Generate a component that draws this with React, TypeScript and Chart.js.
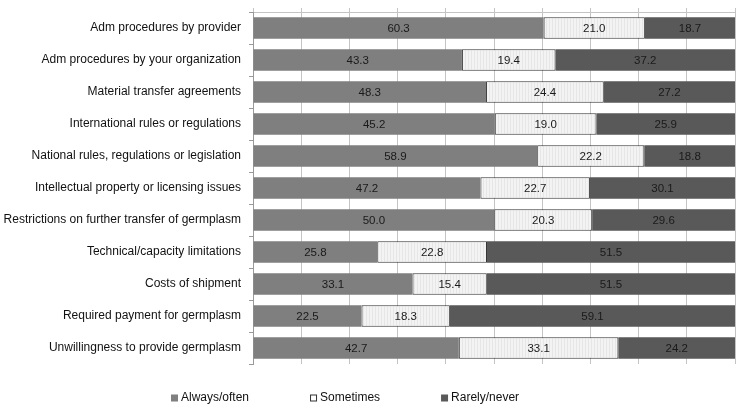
import React, { useEffect, useRef } from "react";
import { Chart, registerables } from "chart.js";

Chart.register(...registerables);

const categories = [
  "Adm procedures by provider",
  "Adm procedures by your organization",
  "Material transfer agreements",
  "International rules or regulations",
  "National rules, regulations or legislation",
  "Intellectual property or licensing issues",
  "Restrictions on further transfer of germplasm",
  "Technical/capacity limitations",
  "Costs of shipment",
  "Required payment for germplasm",
  "Unwillingness to provide germplasm",
];

const alwaysOften = [60.3, 43.3, 48.3, 45.2, 58.9, 47.2, 50.0, 25.8, 33.1, 22.5, 42.7];
const sometimes = [21.0, 19.4, 24.4, 19.0, 22.2, 22.7, 20.3, 22.8, 15.4, 18.3, 33.1];
const rarelyNever = [18.7, 37.2, 27.2, 25.9, 18.8, 30.1, 29.6, 51.5, 51.5, 59.1, 24.2];

const seriesNames = ["Always/often", "Sometimes", "Rarely/never"];
const axisMax = 100;
const axisStep = 10;

const FONT = "'Liberation Sans', Arial, sans-serif";

export default function App() {
  const ref = useRef<HTMLCanvasElement>(null);

  useEffect(() => {
    const canvas = ref.current!;
    const raw = [alwaysOften, sometimes, rarelyNever];
    const totals = categories.map((_, i) => raw.reduce((s, a) => s + a[i], 0));
    const share = raw.map((a) => a.map((v, i) => (v / totals[i]) * 100));

    const pc = document.createElement("canvas");
    pc.width = 3;
    pc.height = 3;
    const pctx = pc.getContext("2d")!;
    pctx.fillStyle = "#f3f3f3";
    pctx.fillRect(0, 0, 3, 3);
    pctx.fillStyle = "#e6e6e6";
    pctx.fillRect(0, 0, 1, 3);
    const pattern = canvas.getContext("2d")!.createPattern(pc, "repeat");

    const fills: any[] = ["#7f7f7f", pattern, "#595959"];
    const borders = ["#7f7f7f", "#333333", "#595959"];
    const borderWidths = [0, 1, 0];

    const labelPlugin = {
      id: "segLabels",
      afterDatasetsDraw(chart: any) {
        const ctx = chart.ctx;
        ctx.save();
        ctx.font = `11.5px ${FONT}`;
        ctx.fillStyle = "#1a1a1a";
        ctx.textAlign = "center";
        ctx.textBaseline = "middle";
        chart.data.datasets.forEach((ds: any, di: number) => {
          const meta = chart.getDatasetMeta(di);
          meta.data.forEach((el: any, i: number) => {
            const cx = (el.x + el.base) / 2;
            ctx.fillText(raw[di][i].toFixed(1), cx, el.y + 0.5);
          });
        });
        ctx.restore();
      },
    };

    const legendPlugin = {
      id: "customLegend",
      afterDraw(chart: any) {
        const ctx = chart.ctx;
        ctx.save();
        ctx.font = `12px ${FONT}`;
        ctx.textBaseline = "middle";
        ctx.textAlign = "left";
        const y = 398;
        const box = 7;
        const gap = 61;
        let x = 171;
        seriesNames.forEach((name, i) => {
          if (i === 1) {
            ctx.fillStyle = "#ffffff";
            ctx.fillRect(x, y - box / 2, box, box);
            ctx.strokeStyle = "#333";
            ctx.lineWidth = 1;
            ctx.strokeRect(x + 0.5, y - box / 2 + 0.5, box - 1, box - 1);
          } else {
            ctx.fillStyle = borders[i];
            ctx.fillRect(x, y - box / 2, box, box);
          }
          ctx.fillStyle = "#111";
          ctx.fillText(name, x + box + 3, y);
          x += box + 3 + ctx.measureText(name).width + gap;
        });
        ctx.restore();
      },
    };

    const chart = new Chart(canvas, {
      type: "bar",
      data: {
        labels: categories,
        datasets: seriesNames.map((name, i) => ({
          label: name,
          data: share[i],
          backgroundColor: fills[i],
          borderColor: borders[i],
          borderWidth: borderWidths[i],
          borderSkipped: false,
          barPercentage: 0.67,
          categoryPercentage: 1,
        })),
      },
      options: {
        indexAxis: "y",
        animation: false,
        responsive: true,
        maintainAspectRatio: false,
        layout: { padding: { top: 8, right: 10, left: 0, bottom: 48 } },
        plugins: {
          legend: { display: false },
          tooltip: { enabled: false },
        },
        scales: {
          x: {
            position: "top",
            stacked: true,
            min: 0,
            max: axisMax,
            ticks: { stepSize: axisStep, display: false },
            grid: { color: "#c4c4c4", tickLength: 4, drawTicks: true },
            border: { display: true, color: "#c4c4c4" },
          },
          y: {
            stacked: true,
            ticks: {
              font: { family: FONT, size: 12 },
              color: "#111",
              padding: 8,
            },
            grid: { drawOnChartArea: false, tickLength: 4, color: "#999", offset: true },
            border: { display: true, color: "#999" },
            afterFit(scale: any) {
              scale.width = 253;
              scale.paddingTop = 0;
              scale.paddingBottom = 0;
            },
          },
        },
      },
      plugins: [labelPlugin, legendPlugin],
    });

    return () => chart.destroy();
  }, []);

  return (
    <div style={{ position: "absolute", left: 0, top: 0, width: 745, height: 412 }}>
      <canvas ref={ref} />
    </div>
  );
}
